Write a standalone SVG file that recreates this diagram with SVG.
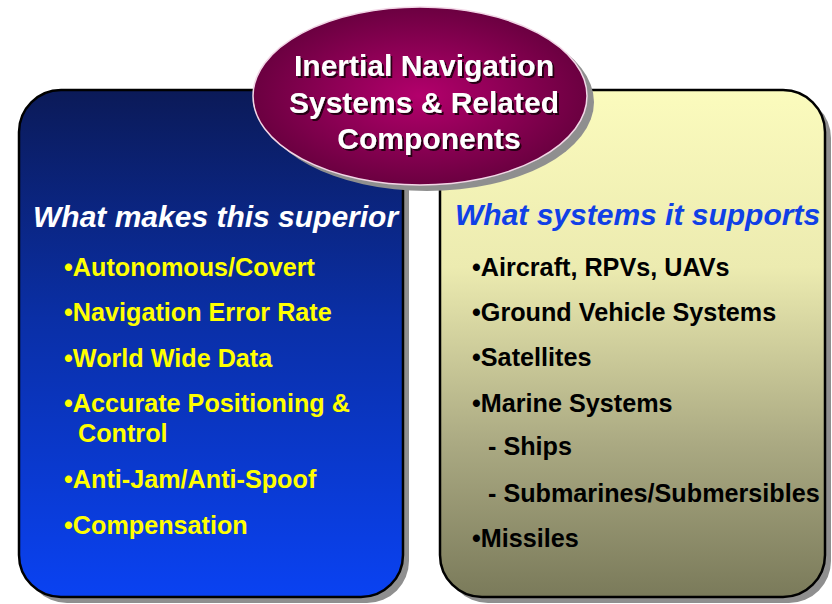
<svg xmlns="http://www.w3.org/2000/svg" width="832" height="604" viewBox="0 0 832 604">
  <defs>
    <linearGradient id="blueFill" x1="0" y1="0" x2="0" y2="1">
      <stop offset="0" stop-color="#0b1a58"/>
      <stop offset="0.45" stop-color="#0a2fa6"/>
      <stop offset="1" stop-color="#0a42f2"/>
    </linearGradient>
    <linearGradient id="sandFill" x1="0" y1="0" x2="0" y2="1">
      <stop offset="0" stop-color="#fbfbbd"/>
      <stop offset="0.35" stop-color="#ecebb0"/>
      <stop offset="0.7" stop-color="#aaa982"/>
      <stop offset="1" stop-color="#7a7a5a"/>
    </linearGradient>
    <radialGradient id="plumFill" cx="0.5" cy="0.5" r="0.55">
      <stop offset="0" stop-color="#b3006c"/>
      <stop offset="1" stop-color="#64003c"/>
    </radialGradient>
    <filter id="textShadow" x="-5%" y="-20%" width="110%" height="140%">
      <feDropShadow dx="2" dy="2" stdDeviation="0" flood-color="#1a0010" flood-opacity="0.9"/>
    </filter>
  </defs>
  <style>
    .box { stroke: #000; stroke-width: 2.5; }
    .shadow { fill: #8f8f8f; }
    .title { font-family: "Liberation Sans", Arial, sans-serif; font-weight: bold; font-size: 30px; fill: #fff; text-anchor: middle; }
    .head { font-family: "Liberation Sans", Arial, sans-serif; font-weight: bold; font-style: italic; font-size: 30px; }
    .item { font-family: "Liberation Sans", Arial, sans-serif; font-weight: bold; font-size: 25.2px; }
    .yellow { fill: #ffff00; }
    .black { fill: #000; }
  </style>

  <rect width="832" height="604" fill="#fff"/>

  <!-- Left panel: advantages -->
  <g id="superior">
    <rect class="shadow" x="25" y="96" width="384" height="507" rx="42"/>
    <rect class="box" x="19" y="90" width="384" height="507" rx="42" fill="url(#blueFill)"/>
    <text class="head" x="33" y="227" fill="#fff">What makes this superior</text>
    <text class="item yellow" x="64" y="276">•Autonomous/Covert</text>
    <text class="item yellow" x="64" y="321">•Navigation Error Rate</text>
    <text class="item yellow" x="64" y="367">•World Wide Data</text>
    <text class="item yellow" x="64" y="412">•Accurate Positioning &amp;</text>
    <text class="item yellow" x="78" y="442">Control</text>
    <text class="item yellow" x="64" y="488">•Anti-Jam/Anti-Spoof</text>
    <text class="item yellow" x="64" y="534">•Compensation</text>
  </g>

  <!-- Right panel: supported systems -->
  <g id="supports">
    <rect class="shadow" x="446" y="96" width="385" height="507" rx="42"/>
    <rect class="box" x="440" y="90" width="385" height="507" rx="42" fill="url(#sandFill)"/>
    <text class="head" x="455" y="225" fill="#1040e6">What systems it supports</text>
    <text class="item black" x="472" y="276">•Aircraft, RPVs, UAVs</text>
    <text class="item black" x="472" y="321">•Ground Vehicle Systems</text>
    <text class="item black" x="472" y="366">•Satellites</text>
    <text class="item black" x="472" y="412">•Marine Systems</text>
    <text class="item black" x="488" y="455">- Ships</text>
    <text class="item black" x="488" y="502">- Submarines/Submersibles</text>
    <text class="item black" x="472" y="547">•Missiles</text>
  </g>

  <!-- Central title ellipse -->
  <g id="title">
    <ellipse cx="427" cy="102" rx="167" ry="89" fill="#8f8f8f"/>
    <ellipse cx="420" cy="96" rx="167" ry="89" fill="url(#plumFill)" stroke="#f2d6e6" stroke-width="1.5"/>
    <g filter="url(#textShadow)">
      <text class="title" x="424" y="76">Inertial Navigation</text>
      <text class="title" x="424" y="113">Systems &amp; Related</text>
      <text class="title" x="429" y="149">Components</text>
    </g>
  </g>
</svg>
